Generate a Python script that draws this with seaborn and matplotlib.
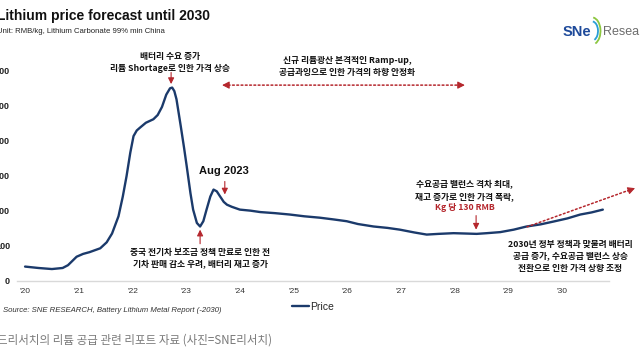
import matplotlib
matplotlib.use("Agg")
import matplotlib.pyplot as plt
from matplotlib.patches import Arc
import seaborn as sns
import pandas as pd

# data (year as decimal, RMB/kg)
year_pos = [2020.00, 2020.25, 2020.50, 2020.70, 2020.80, 2020.96, 2021.08, 2021.20,
            2021.40, 2021.52, 2021.62, 2021.74, 2021.82, 2021.89, 2021.96, 2022.02,
            2022.08, 2022.14, 2022.25, 2022.39, 2022.47, 2022.55, 2022.63, 2022.70,
            2022.74, 2022.78, 2022.82, 2022.90, 2022.96, 2023.01, 2023.08, 2023.13,
            2023.20, 2023.26, 2023.32, 2023.38, 2023.45, 2023.51, 2023.57, 2023.63,
            2023.70, 2023.76, 2023.85, 2024.00, 2024.20, 2024.38, 2024.65, 2024.93,
            2025.20, 2025.49, 2025.75, 2025.99, 2026.20, 2026.49, 2026.75, 2026.98,
            2027.25, 2027.48, 2027.70, 2027.98, 2028.20, 2028.41, 2028.60, 2028.85,
            2029.10, 2029.34, 2029.60, 2029.84, 2030.10, 2030.34, 2030.55, 2030.76]
price = [41, 37, 34, 37, 45, 69, 77, 82,
         93, 110, 135, 184, 240, 298, 365, 412,
         428, 436, 450, 460, 472, 495, 530, 548,
         550, 540, 517, 440, 380, 327, 250, 203,
         165, 155, 170, 203, 240, 260, 255, 241,
         225, 217, 211, 203, 200, 196, 193, 189,
         184, 180, 175, 170, 162, 155, 151, 146,
         138, 132, 134, 136, 135, 134, 136, 139,
         146, 155, 161, 169, 178, 189, 195, 203]

year_ticks = [2020, 2021, 2022, 2023, 2024, 2025, 2026, 2027, 2028, 2029, 2030]
year_labels = ["'20", "'21", "'22", "'23", "'24", "'25", "'26", "'27", "'28", "'29", "'30"]
value_ticks = [0, 100, 200, 300, 400, 500, 600]

df = pd.DataFrame({"year": year_pos, "price": price})

sns.set_theme(style="white")
plt.rcParams["font.family"] = ["Liberation Sans", "Noto Sans CJK KR", "DejaVu Sans"]
KR = ["Noto Sans CJK KR", "DejaVu Sans"]
NAVY = "#1b3a6b"
RED = "#b5272d"

fig = plt.figure(figsize=(6.4, 3.6), dpi=100)
ax = fig.add_axes([17 / 640, (360 - 281) / 360, (609 - 17) / 640, 211 / 360])

sns.lineplot(data=df, x="year", y="price", ax=ax, color=NAVY, linewidth=1.7, label="Price")

ax.set_xlim(2019.85, 2030.875)
ax.set_ylim(0, 600)
ax.set_xticks(year_ticks)
ax.set_xticklabels(year_labels, fontsize=6, color="#333333")
ax.set_yticks(value_ticks)
ax.set_yticklabels([str(v) for v in value_ticks], fontsize=6.5, fontweight="bold", color="#222222")
ax.tick_params(axis="x", length=0, pad=5)
ax.tick_params(axis="y", length=0, pad=5)
ax.set_xlabel("")
ax.set_ylabel("")
for side in ["top", "right", "left"]:
    ax.spines[side].set_visible(False)
ax.spines["bottom"].set_color("#d9d9d9")
ax.spines["bottom"].set_linewidth(1)

ax.legend(loc="center", bbox_to_anchor=(313 / 640, 1 - 307 / 360), bbox_transform=fig.transFigure,
          frameon=False, fontsize=7.5, handlelength=1.6, handletextpad=0.1)

# titles
fig.text(-0.004, 1 - 16 / 360, "Lithium price forecast until 2030", fontsize=10,
         fontweight="bold", color="#111111", va="center", ha="left")
fig.text(-0.005, 1 - 31.5 / 360, "Unit: RMB/kg, Lithium Carbonate 99% min China", fontsize=5.6,
         color="#222222", va="center", ha="left")

# logo
fig.text(563 / 640, 1 - 32 / 360, "SNe", fontsize=10.5, fontweight="bold", color="#1e4a9a",
         va="center", ha="left")
fig.text(603 / 640, 1 - 32 / 360, "Research", fontsize=9, color="#6d6d6d", va="center", ha="left")
for r, c in [(0.12, "#2a9fd6"), (0.17, "#8cc63f")]:
    fig.add_artist(Arc((5.92, 3.29), r, r * 1.6, theta1=-75, theta2=85, color=c, lw=1.3,
                       transform=fig.dpi_scale_trans))

# annotations
kw = dict(fontsize=6.3, fontweight="bold", family=KR, color="#111111", ha="center", va="center",
          linespacing=1.45)
ax.text(2022.70, 622, "배터리 수요 증가\n리튬 Shortage로 인한 가격 상승", **kw)
ax.text(2026.0, 610, "신규 리튬광산 본격적인 Ramp-up,\n공급과잉으로 인한 가격의 하향 안정화", **kw)
ax.text(2023.26, 63, "중국 전기차 보조금 정책 만료로 인한 전\n기차 판매 감소 우려, 배터리 재고 증가", **kw)
ax.text(2028.19, 257, "수요공급 밸런스 격차 최대,\n재고 증가로 인한 가격 폭락,", **kw)
ax.text(2028.19, 209, "Kg 당 130 RMB", **{**kw, "color": RED})
ax.text(2030.15, 71, "2030년 정부 정책과 맞물려 배터리\n공급 증가, 수요공급 밸런스 상승\n전환으로 인한 가격 상향 조정",
        clip_on=False, **kw)
ax.text(2023.70, 314, "Aug 2023", fontsize=8, fontweight="bold", color="#111111",
        ha="center", va="center")

arrow = dict(arrowstyle="-|>,head_length=0.3,head_width=0.15", color=RED, lw=0.8,
             shrinkA=0, shrinkB=0)
ax.annotate("", xy=(2022.72, 560), xytext=(2022.72, 593), arrowprops=arrow, annotation_clip=False)
ax.annotate("", xy=(2023.72, 246), xytext=(2023.72, 283), arrowprops=arrow)
ax.annotate("", xy=(2023.26, 146), xytext=(2023.26, 106), arrowprops=arrow)
ax.annotate("", xy=(2028.40, 146), xytext=(2028.40, 186), arrowprops=arrow)

# dotted double arrow (2023-2028)
dot = dict(arrowstyle="-", color=RED, lw=1.1, linestyle=(0, (1.2, 1.6)), shrinkA=0, shrinkB=0)
ax.annotate("", xy=(2023.72, 557), xytext=(2028.12, 557), arrowprops=dot, annotation_clip=False)
head = dict(arrowstyle="-|>,head_length=0.35,head_width=0.18", color=RED, lw=0.8,
            shrinkA=0, shrinkB=0)
ax.annotate("", xy=(2023.67, 557), xytext=(2023.80, 557), arrowprops=head, annotation_clip=False)
ax.annotate("", xy=(2028.19, 557), xytext=(2028.06, 557), arrowprops=head, annotation_clip=False)

# dotted forecast arrow
ax.annotate("", xy=(2031.28, 260), xytext=(2029.35, 154), arrowprops=dot, annotation_clip=False)
ax.annotate("", xy=(2031.36, 264), xytext=(2031.22, 256), arrowprops=head, annotation_clip=False)

# source and caption
fig.text(3 / 640, 1 - 310 / 360, "Source: SNE RESEARCH, Battery Lithium Metal Report (-2030)",
         fontsize=5.6, fontstyle="italic", color="#333333", va="center", ha="left")
fig.text(-0.004, 1 - 340 / 360, "드리서치의 리튬 공급 관련 리포트 자료 (사진=SNE리서치)",
         fontsize=8.3, family=KR, color="#7a7a7a", va="center", ha="left")

fig.savefig("out.png", dpi=100)
